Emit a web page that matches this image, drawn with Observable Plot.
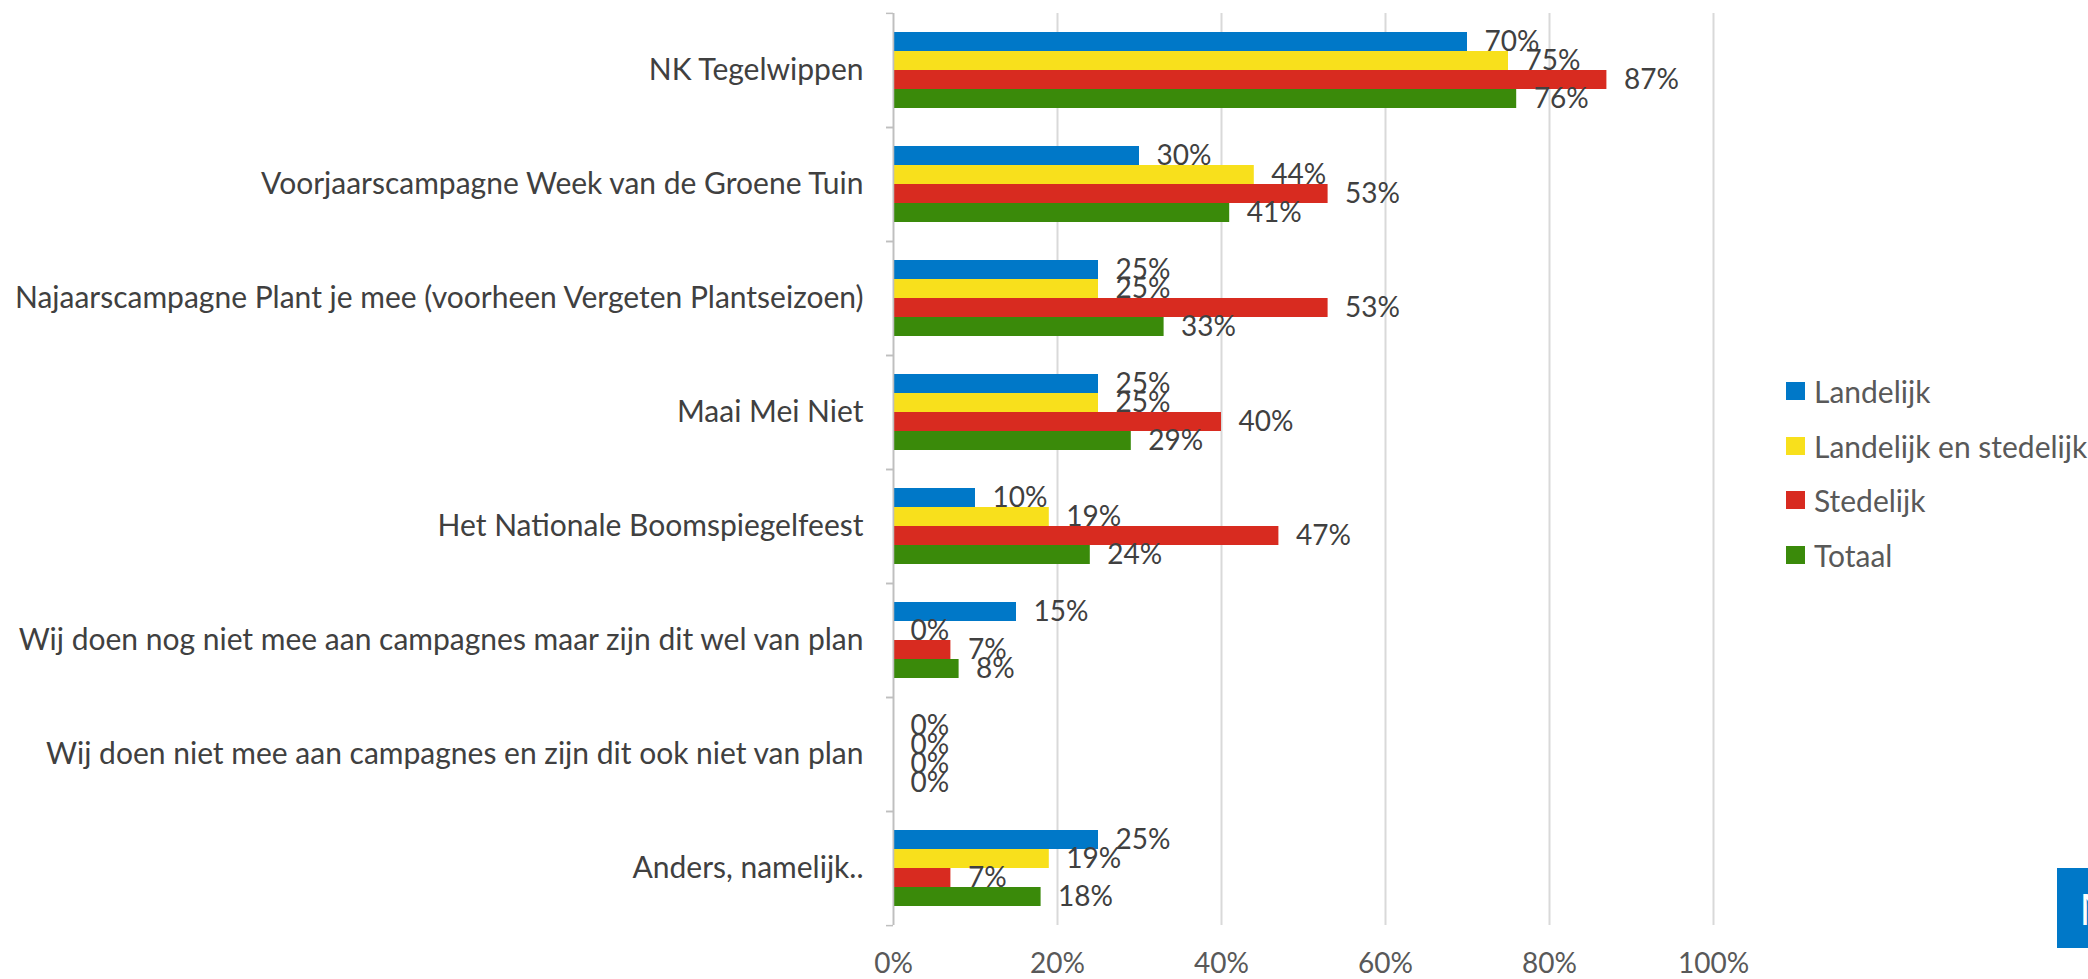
<!DOCTYPE html>
<html>
<head>
<meta charset="utf-8">
<script src="https://cdn.jsdelivr.net/npm/d3@7"></script>
<script src="https://cdn.jsdelivr.net/npm/@observablehq/plot@0.6"></script>
<style>
  html, body { margin: 0; padding: 0; background: #fff; }
  #wrap { position: relative; width: 2088px; height: 979px; overflow: hidden; background: #fff; font-family: Lato, "Open Sans", sans-serif; }
  #chart { position: absolute; left: 0; top: 0; }
  #legend { position: absolute; left: 1786px; top: 364px; }
  .lg-row { display: flex; align-items: center; height: 54.5px; font-size: 30px; color: #595959; white-space: nowrap; }
  .lg-sw { width: 19px; height: 18px; margin-right: 9px; flex: none; }
  #badge { position: absolute; left: 2057px; top: 868px; width: 80px; height: 80px; background: #0078C8; color: #fff; font-size: 44px; line-height: 80px; padding-left: 22px; box-sizing: border-box; font-family: "Open Sans", sans-serif; }
</style>
</head>
<body>
<div id="wrap">
  <div id="chart"></div>
  <div id="legend"></div>
  <div id="badge">N</div>
</div>
<script>
const categories = [
  "NK Tegelwippen",
  "Voorjaarscampagne Week van de Groene Tuin",
  "Najaarscampagne Plant je mee (voorheen Vergeten Plantseizoen)",
  "Maai Mei Niet",
  "Het Nationale Boomspiegelfeest",
  "Wij doen nog niet mee aan campagnes maar zijn dit wel van plan",
  "Wij doen niet mee aan campagnes en zijn dit ook niet van plan",
  "Anders, namelijk.."
];
const series = ["Landelijk", "Landelijk en stedelijk", "Stedelijk", "Totaal"];
const landelijk          = [70, 30, 25, 25, 10, 15, 0, 25];
const landelijkStedelijk = [75, 44, 25, 25, 19,  0, 0, 19];
const stedelijk          = [87, 53, 53, 40, 47,  7, 0,  7];
const totaal             = [76, 41, 33, 29, 24,  8, 0, 18];
const colors = ["#0078C8", "#F8E01C", "#D82B20", "#3A8A0A"];
const xTicks = [0, 20, 40, 60, 80, 100];

const seriesValues = [landelijk, landelijkStedelijk, stedelijk, totaal];
const rows = categories.flatMap((c, i) =>
  seriesValues.map((arr, j) => ({category: c, series: series[j], value: arr[i]}))
);

const H = 979, MT = 12, MB = 53;
const halfStep = (H - MT - MB) / categories.length / 2;

const chart = Plot.plot({
  width: 1780,
  height: H,
  marginLeft: 893,
  marginRight: 67,
  marginTop: MT,
  marginBottom: MB,
  style: {fontFamily: "Lato, 'Open Sans', sans-serif", fontSize: "28px", color: "#404040", background: "white"},
  x: {domain: [0, 100], label: null},
  y: {domain: series, paddingInner: 0, paddingOuter: 0.92, axis: null},
  fy: {domain: categories, padding: 0, label: null},
  color: {domain: series, range: colors},
  marks: [
    Plot.gridX(xTicks, {stroke: "#D9D9D9", strokeOpacity: 1, strokeWidth: 2}),
    Plot.barX(rows, {x: "value", y: "series", fy: "category", fill: "series"}),
    Plot.ruleX([0], {stroke: "#BFBFBF", strokeWidth: 1.5}),
    Plot.text(rows, {x: "value", y: "series", fy: "category", text: d => d.value + "%", textAnchor: "start", dx: 17, fill: "#404040", fontSize: 28}),
    Plot.axisX(xTicks, {anchor: "bottom", tickSize: 0, tickPadding: 28, tickFormat: d => d + "%", fill: "#595959", fontSize: 28, label: null}),
    Plot.axisFy({anchor: "left", tickSize: 0, tickPadding: 30, fill: "#404040", fontSize: 30, label: null}),
    Plot.axisFy({anchor: "left", tickSize: 7, tickPadding: 0, tickFormat: () => "", dy: -halfStep, stroke: "#BFBFBF", strokeWidth: 1.5, label: null}),
    Plot.axisFy({anchor: "left", tickSize: 7, tickPadding: 0, tickFormat: () => "", dy: halfStep, stroke: "#BFBFBF", strokeWidth: 1.5, label: null})
  ]
});
document.getElementById("chart").appendChild(chart);

const legend = document.getElementById("legend");
series.forEach((s, i) => {
  const row = document.createElement("div");
  row.className = "lg-row";
  const sw = document.createElement("span");
  sw.className = "lg-sw";
  sw.style.background = colors[i];
  const tx = document.createElement("span");
  tx.textContent = s;
  row.appendChild(sw);
  row.appendChild(tx);
  legend.appendChild(row);
});
</script>
</body>
</html>
